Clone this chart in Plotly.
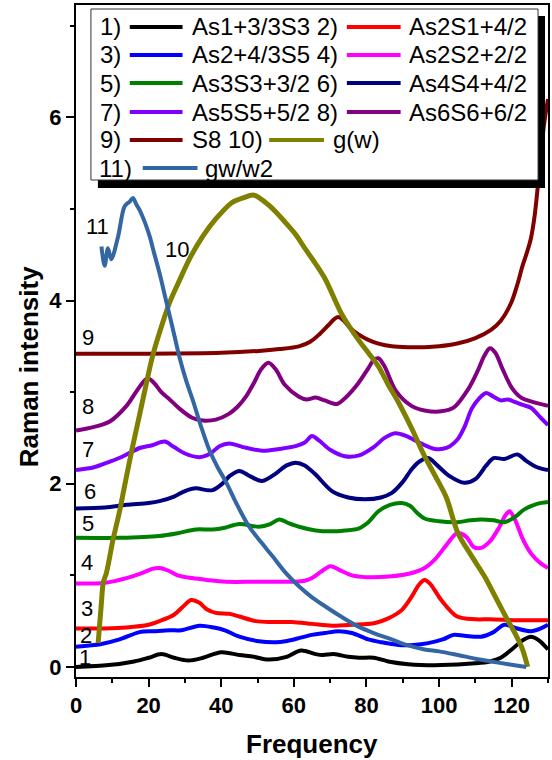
import plotly.graph_objects as go

# ---------------- data ----------------
names = ["As1+3/3S3", "As2S1+4/2", "As2+4/3S5", "As2S2+2/2", "As3S3+3/2",
         "As4S4+4/2", "As5S5+5/2", "As6S6+6/2", "S8", "g(w)", "gw/w2"]
colors = ["#000000", "#FF0000", "#0000FF", "#FF00FF", "#008000",
          "#000080", "#8000FF", "#800080", "#800000", "#808000", "#3366A3"]

x1 = [0, 9, 16, 20, 23.5, 27, 31, 35, 40, 45, 49, 53, 58, 62, 66, 68, 71, 75, 78, 82, 86, 91.5, 100.6, 110, 114, 117, 120, 123, 125.3, 127.5, 130]
y1 = [0.0, 0.02, 0.06, 0.10, 0.14, 0.10, 0.07, 0.10, 0.16, 0.13, 0.11, 0.08, 0.11, 0.18, 0.14, 0.13, 0.14, 0.11, 0.10, 0.10, 0.06, 0.03, 0.02, 0.04, 0.06, 0.10, 0.19, 0.29, 0.33, 0.29, 0.19]

x2 = [0, 8, 13.9, 20, 23, 27, 29.5, 31.7, 34, 36, 38.5, 42.2, 45, 49.5, 54, 59.5, 65, 70.5, 76, 82.4, 86, 89.7, 92.5, 94.5, 96, 97.5, 100.6, 105, 110, 114, 122, 130]
y2 = [0.42, 0.42, 0.43, 0.46, 0.50, 0.57, 0.66, 0.73, 0.70, 0.63, 0.59, 0.58, 0.55, 0.50, 0.49, 0.49, 0.47, 0.45, 0.46, 0.48, 0.53, 0.62, 0.77, 0.90, 0.95, 0.91, 0.73, 0.55, 0.52, 0.52, 0.51, 0.51]

x3 = [0, 7, 12, 17.5, 21.5, 25.8, 29, 34, 38, 41, 45, 50.4, 55, 57.7, 61, 65, 68.5, 72.3, 76, 80.5, 84, 88.8, 93, 97, 101, 104, 107, 111.6, 115, 118, 121.5, 125.3, 128, 130]
y3 = [0.22, 0.25, 0.30, 0.38, 0.39, 0.40, 0.40, 0.45, 0.43, 0.40, 0.33, 0.28, 0.27, 0.28, 0.31, 0.35, 0.37, 0.39, 0.37, 0.30, 0.27, 0.24, 0.24, 0.26, 0.30, 0.35, 0.34, 0.33, 0.38, 0.46, 0.42, 0.39, 0.42, 0.46]

x4 = [0, 8, 13.9, 18.5, 21, 23, 25.5, 28, 32, 36, 41.3, 50, 59.5, 63, 65, 67.5, 70, 72.5, 76, 80, 87, 92, 96, 99, 102, 105, 107.5, 109.5, 111.6, 114, 116.5, 118.2, 119.4, 121, 123, 125.3, 128, 130]
y4 = [0.91, 0.92, 0.97, 1.03, 1.07, 1.08, 1.05, 1.00, 0.97, 0.95, 0.93, 0.93, 0.93, 0.94, 0.97, 1.04, 1.10, 1.06, 1.00, 0.98, 0.99, 1.02, 1.08, 1.18, 1.33, 1.46, 1.42, 1.31, 1.30, 1.37, 1.52, 1.65, 1.70, 1.60, 1.40, 1.24, 1.13, 1.08]

x5 = [0, 12, 23, 28, 33, 37.6, 41, 45, 50.4, 53.5, 56, 58.5, 61.4, 66, 70.5, 74, 77.8, 80.5, 83.3, 86.5, 89.7, 92, 94, 96, 100, 105, 108.5, 111.6, 115, 118, 121, 123.5, 127, 130]
y5 = [1.41, 1.41, 1.43, 1.46, 1.50, 1.50, 1.52, 1.56, 1.53, 1.56, 1.61, 1.57, 1.53, 1.49, 1.48, 1.49, 1.51, 1.58, 1.70, 1.77, 1.79, 1.76, 1.68, 1.62, 1.59, 1.58, 1.60, 1.61, 1.60, 1.58, 1.64, 1.72, 1.78, 1.80]

x6 = [0, 8, 13.9, 20, 23, 27, 30, 33, 36, 37.6, 40, 42.5, 45, 48, 51.3, 55, 58, 60.5, 63, 66, 70.5, 75, 79.6, 84, 87, 90, 92.5, 94.5, 97, 99.5, 103, 107, 110, 113, 115, 118, 121.6, 124, 127, 130]
y6 = [1.73, 1.74, 1.77, 1.79, 1.81, 1.86, 1.92, 1.95, 1.93, 1.93, 1.99, 2.09, 2.14, 2.08, 2.03, 2.11, 2.20, 2.23, 2.20, 2.10, 1.92, 1.85, 1.83, 1.85, 1.90, 2.02, 2.16, 2.24, 2.28, 2.20, 2.08, 2.01, 2.05, 2.20, 2.28, 2.27, 2.32, 2.25, 2.18, 2.15]

x7 = [0, 5, 9.3, 13, 17.5, 21, 24.4, 27, 30, 34, 37, 39.5, 42.2, 46, 51.3, 56, 60.5, 63, 65, 67, 70, 74, 78, 82, 85, 87.9, 91, 95, 98.8, 102, 105, 107, 109, 111, 113, 115, 117, 119, 121, 123, 125.3, 128, 130]
y7 = [2.15, 2.18, 2.24, 2.30, 2.39, 2.42, 2.46, 2.40, 2.33, 2.29, 2.33, 2.41, 2.44, 2.40, 2.36, 2.38, 2.41, 2.45, 2.52, 2.47, 2.37, 2.30, 2.31, 2.40, 2.50, 2.55, 2.52, 2.44, 2.38, 2.39, 2.48, 2.62, 2.82, 2.93, 2.99, 2.95, 2.91, 2.92, 2.89, 2.86, 2.83, 2.72, 2.64]

x8 = [0, 5, 9.3, 13.9, 16.5, 18.5, 19.8, 21.5, 23.5, 25.8, 28.5, 32, 35, 38.5, 42, 44.5, 46.8, 49, 51, 53, 55, 57.5, 61.4, 63.5, 66, 68.5, 71.9, 74.5, 77.8, 80.5, 82, 83.3, 85, 88, 92.4, 96, 100.6, 104, 108, 110.5, 112.5, 114, 115.5, 117.5, 120, 122.6, 126, 130]
y8 = [2.58, 2.62, 2.68, 2.85, 3.00, 3.11, 3.15, 3.10, 3.00, 2.92, 2.82, 2.72, 2.69, 2.70, 2.76, 2.84, 2.95, 3.10, 3.25, 3.32, 3.25, 3.08, 2.95, 2.92, 2.94, 2.91, 2.87, 2.95, 3.10, 3.26, 3.35, 3.37, 3.28, 3.02, 2.85, 2.80, 2.79, 2.83, 3.03, 3.22, 3.40, 3.48, 3.43, 3.25, 3.05, 2.94, 2.89, 2.85]

x9 = [0, 20, 40, 50.4, 56, 61.4, 64.5, 67, 69.5, 71.2, 72.3, 73.5, 75.5, 77.8, 80.5, 83.3, 87, 91.5, 96, 100, 105, 110, 114.3, 117, 119.8, 121.6, 123, 124.4, 125.3, 126.3, 127.1, 128, 129, 130]
y9 = [3.42, 3.42, 3.43, 3.45, 3.47, 3.50, 3.55, 3.63, 3.73, 3.80, 3.82, 3.79, 3.70, 3.63, 3.57, 3.53, 3.50, 3.49, 3.49, 3.50, 3.53, 3.59, 3.68, 3.78, 3.97, 4.18, 4.38, 4.55, 4.68, 4.92, 5.21, 5.60, 5.95, 6.20]

x10 = [6.1, 7.0, 7.5, 8.4, 10.2, 12, 13.5, 15.4, 17.5, 19.4, 21, 23, 25.8, 28.5, 31.2, 34.9, 38.5, 43, 46, 49, 52.2, 55, 57.7, 60.5, 63.2, 66, 68.7, 73.2, 77.8, 80.5, 83.3, 86, 88.8, 92.5, 96, 99, 102, 105.2, 108.8, 112.5, 115.7, 118.9, 121, 123, 124.4]
y10 = [0.26, 0.70, 0.92, 1.03, 1.39, 1.70, 2.00, 2.37, 2.75, 3.10, 3.38, 3.65, 3.98, 4.22, 4.45, 4.70, 4.89, 5.07, 5.12, 5.15, 5.07, 4.97, 4.85, 4.72, 4.56, 4.40, 4.23, 3.85, 3.57, 3.43, 3.28, 3.08, 2.89, 2.60, 2.30, 2.08, 1.85, 1.46, 1.22, 0.99, 0.75, 0.51, 0.36, 0.19, 0.0]

x11 = [7.0, 7.9, 8.8, 9.7, 11.6, 13.4, 14.8, 15.7, 16.6, 17.5, 19, 20.3, 21.5, 23, 24.8, 26.5, 28.5, 30.3, 32.1, 34.4, 36.7, 39, 41.3, 44.5, 47.7, 51, 54.1, 57.7, 61.4, 65, 68.7, 73, 77.8, 82, 86.9, 91, 96, 100, 105.2, 110, 114.3, 119, 124]
y11 = [4.59, 4.38, 4.57, 4.45, 4.70, 5.03, 5.08, 5.12, 5.05, 4.99, 4.85, 4.70, 4.52, 4.30, 4.00, 3.72, 3.38, 3.13, 2.92, 2.63, 2.37, 2.18, 2.02, 1.76, 1.53, 1.36, 1.21, 1.03, 0.88, 0.76, 0.66, 0.55, 0.44, 0.37, 0.30, 0.24, 0.19, 0.17, 0.13, 0.09, 0.06, 0.03, 0.0]

xs = [x1, x2, x3, x4, x5, x6, x7, x8, x9, x10, x11]
ys = [y1, y2, y3, y4, y5, y6, y7, y8, y9, y10, y11]

# labels written next to the curves
curve_labels = ["1", "2", "3", "4", "5", "6", "7", "8", "9", "10", "11"]
label_x = [2.5, 2.7, 3.0, 3.0, 3.3, 3.8, 3.3, 3.3, 3.3, 27.9, 6.0]
label_y = [0.10, 0.34, 0.64, 1.14, 1.57, 1.91, 2.37, 2.84, 3.60, 4.56, 4.81]

x_ticks = [0, 20, 40, 60, 80, 100, 120]
y_ticks = [0, 2, 4, 6]

# ---------------- figure ----------------
W, H = 552, 760
ML, MR, MT, MB = 76, 2, 5, 83
PW, PH = W - ML - MR, H - MT - MB


def px(xp):
    return (xp - ML) / PW


def py(yp):
    return (H - MB - yp) / PH


FONT = "Liberation Sans, Arial, sans-serif"
fig = go.Figure()

widths = [4, 4, 4, 4, 4, 4, 4, 4, 4, 5, 4]
for i in range(11):
    fig.add_trace(go.Scatter(
        x=xs[i], y=ys[i], mode="lines", name=names[i], showlegend=False,
        line=dict(color=colors[i], width=widths[i], shape="spline", smoothing=0.9),
        hoverinfo="skip"))

annotations = []
for t, lx, ly in zip(curve_labels, label_x, label_y):
    annotations.append(dict(x=lx, y=ly, xref="x", yref="y", text=t, showarrow=False,
                            xanchor="center", yanchor="middle",
                            font=dict(family=FONT, size=22, color="black")))

# axis titles
annotations.append(dict(x=0.5, y=py(744), xref="paper", yref="paper", text="Frequency",
                        showarrow=False, xanchor="center", yanchor="middle",
                        font=dict(family=FONT, size=26, color="black", weight="bold")))
annotations.append(dict(x=px(29), y=py(367), xref="paper", yref="paper", text="Raman intensity",
                        showarrow=False, xanchor="center", yanchor="middle", textangle=-90,
                        font=dict(family=FONT, size=26, color="black", weight="bold")))

# ---------------- custom legend (Origin style) ----------------
shapes = []
shapes.append(dict(type="rect", xref="paper", yref="paper", x0=px(98), x1=px(547), y0=py(188), y1=py(16),
                   fillcolor="black", line=dict(width=0), layer="above"))
shapes.append(dict(type="rect", xref="paper", yref="paper", x0=px(91), x1=px(540), y0=py(180), y1=py(9),
                   fillcolor="white", line=dict(color="#333333", width=1), layer="above"))

row_y = [27, 55, 83, 112, 140, 168]
LF = dict(family=FONT, size=24, color="black")


def leg_text(t, xpix, ypix, anchor):
    annotations.append(dict(x=px(xpix), y=py(ypix), xref="paper", yref="paper", text=t,
                            showarrow=False, xanchor=anchor, yanchor="middle", font=LF))


def leg_line(ci, x0, x1, ypix):
    shapes.append(dict(type="line", xref="paper", yref="paper", x0=px(x0), x1=px(x1),
                       y0=py(ypix), y1=py(ypix), line=dict(color=colors[ci], width=4), layer="above"))


for r in range(4):
    a, b = 2 * r, 2 * r + 1
    yy = row_y[r]
    leg_text(f"{a + 1})", 123, yy, "right")
    leg_line(a, 130, 183, yy)
    leg_text(f"{names[a]} {b + 1})", 190, yy, "left")
    leg_line(b, 348, 402, yy)
    leg_text(names[b], 408, yy, "left")

leg_text("9)", 123, row_y[4], "right")
leg_line(8, 130, 183, row_y[4])
leg_text(f"{names[8]} 10)", 190, row_y[4], "left")
leg_line(9, 270, 325, row_y[4])
leg_text(names[9], 332, row_y[4], "left")

leg_text("11)", 134, row_y[5], "right")
leg_line(10, 143, 198, row_y[5])
leg_text(names[10], 204, row_y[5], "left")

tickfont = dict(family=FONT, size=22, color="black", weight="bold")
fig.update_layout(
    width=W, height=H, margin=dict(l=ML, r=MR, t=MT, b=MB, pad=0),
    paper_bgcolor="white", plot_bgcolor="white",
    showlegend=False,
    annotations=annotations, shapes=shapes,
    xaxis=dict(range=[0, 130], tickvals=x_ticks, ticks="outside", ticklen=8, tickwidth=2,
               tickcolor="black", minor=dict(ticks="outside", ticklen=4, tickwidth=2, dtick=10, tick0=0,
                                             tickcolor="black"),
               showline=True, linewidth=2, linecolor="black", mirror=True,
               showgrid=False, zeroline=False, tickfont=tickfont),
    yaxis=dict(range=[-0.11, 7.226], tickvals=y_ticks, ticks="outside", ticklen=8, tickwidth=2,
               tickcolor="black", minor=dict(ticks="outside", ticklen=4, tickwidth=2, dtick=1, tick0=0,
                                             tickcolor="black"),
               showline=True, linewidth=2, linecolor="black", mirror=True,
               showgrid=False, zeroline=False, tickfont=tickfont),
)

fig.write_html("out.html", config={"displayModeBar": False},
               post_script="document.body.style.margin='0px';document.body.style.overflow='hidden';")
